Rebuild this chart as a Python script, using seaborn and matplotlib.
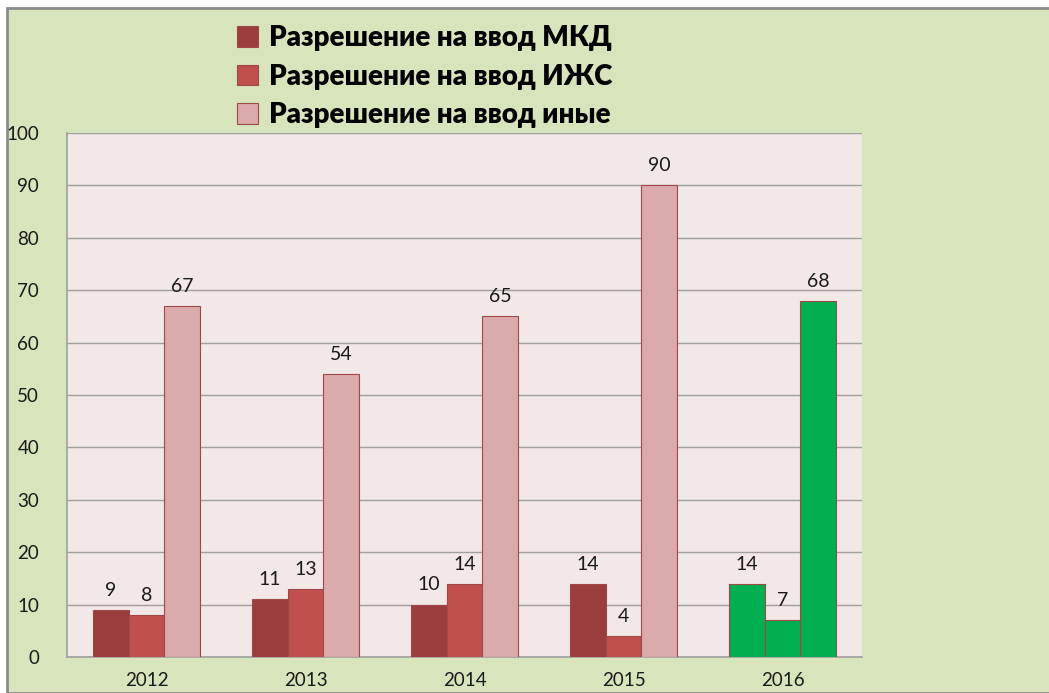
import pandas as pd
import matplotlib.pyplot as plt
import seaborn as sns
from matplotlib.patches import Patch, Rectangle

# --- Данные ---
years = ['2012', '2013', '2014', '2015', '2016']
series_names = ['Разрешение на ввод МКД', 'Разрешение на ввод ИЖС', 'Разрешение на ввод иные']
mkd = [9, 11, 10, 14, 14]
izhs = [8, 13, 14, 4, 7]
inye = [67, 54, 65, 90, 68]

colors = ['#9B3D3D', '#C0504D', '#DBAAAA']
highlight_color = '#00B050'
highlight_year = '2016'

df = pd.DataFrame({'year': years, series_names[0]: mkd, series_names[1]: izhs, series_names[2]: inye})
df_long = df.melt(id_vars='year', var_name='series', value_name='value')

sns.set_style('white')
plt.rcParams['font.family'] = ['Lato', 'DejaVu Sans']

fig = plt.figure(figsize=(10.49, 6.93), dpi=100, facecolor='white')
# зелёная подложка с серой рамкой
fig.add_artist(Rectangle((7 / 1049, 0), 1, 1 - 8 / 693, transform=fig.transFigure,
                         facecolor='#D8E4BC', edgecolor='#8C8C8C', lw=2, zorder=0))

ax = fig.add_axes([67 / 1049, 1 - 657 / 693, 795 / 1049, 524 / 693])
ax.set_facecolor('#F2E8E8')

sns.barplot(data=df_long, x='year', y='value', hue='series', order=years, hue_order=series_names,
            palette=colors, width=0.675, edgecolor='#A04848', linewidth=0.8, saturation=1,
            legend=False, ax=ax, zorder=3)

# выделить 2016 зелёным
hi = years.index(highlight_year)
for container in ax.containers:
    container.patches[hi].set_facecolor(highlight_color)
    ax.bar_label(container, padding=8, fontsize=14, color='#1a1a1a')

ax.set_ylim(0, 100)
ax.set_yticks(range(0, 101, 10))
ax.yaxis.grid(True, color='#A0A0A0', lw=1, zorder=0)
ax.set_axisbelow(True)
ax.set_xlabel('')
ax.set_ylabel('')
ax.tick_params(axis='y', labelsize=13.5, pad=20, length=0, labelcolor='#1a1a1a')
ax.tick_params(axis='x', labelsize=13.5, pad=11, length=0, labelcolor='#1a1a1a')
for s in ['top', 'right']:
    ax.spines[s].set_visible(False)
for s in ['left', 'bottom']:
    ax.spines[s].set_color('#A0A0A0')
    ax.spines[s].set_linewidth(1.2)

handles = [Patch(facecolor=c, edgecolor='#A04848', lw=0.8) for c in colors]
fig.legend(handles, series_names, loc='upper left', bbox_to_anchor=(226 / 1049, 1 - 14 / 693),
           frameon=False, prop={'weight': 'heavy', 'size': 20}, handlelength=0.75, handleheight=0.75,
           handletextpad=0.4, labelspacing=0.45, borderaxespad=0, labelcolor='black')

fig.savefig('out.png', dpi=100, facecolor=fig.get_facecolor())
